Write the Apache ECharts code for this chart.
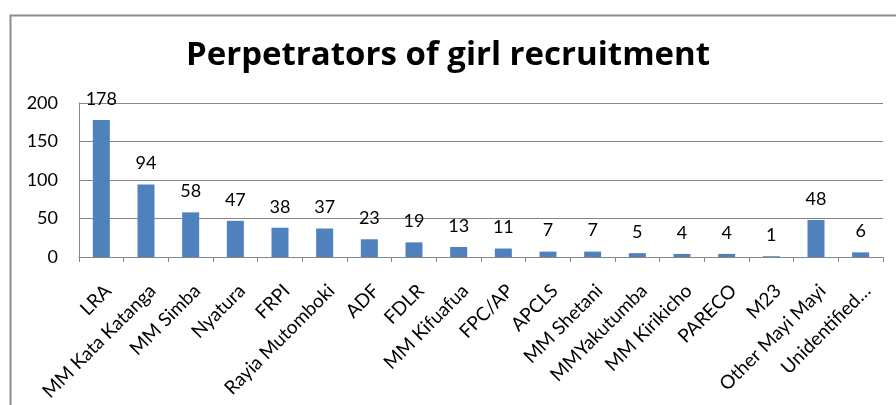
<!DOCTYPE html>
<html>
<head>
<meta charset="utf-8">
<script src="https://cdn.jsdelivr.net/npm/echarts@6/dist/echarts.min.js"></script>
<style>
html,body{margin:0;padding:0;background:#fff;}
#chart{width:896px;height:405px;}
</style>
</head>
<body>
<div id="chart"></div>
<script>
const categories = ["LRA","MM Kata Katanga","MM Simba","Nyatura","FRPI","Rayia Mutomboki","ADF","FDLR","MM Kifuafua","FPC/AP","APCLS","MM Shetani","MMYakutumba","MM Kirikicho","PARECO","M23","Other Mayi Mayi","Unidentified\u2026"];
const values = [178,94,58,47,38,37,23,19,13,11,7,7,5,4,4,1,48,6];
const yTicks = [0,50,100,150,200];

const chart = echarts.init(document.getElementById('chart'));
const font = 'Lato, "Liberation Sans", sans-serif';
chart.setOption({
  animation:false,
  backgroundColor:'#fff',
  title:{
    text:'Perpetrators of girl recruitment',
    left:'center', top:34,
    textStyle:{fontFamily:'"Open Sans", Lato, sans-serif', fontWeight:'bold', fontSize:33, color:'#000'}
  },
  graphic:[{
    type:'rect', shape:{x:10.5,y:15.5,width:900,height:420},
    style:{fill:'none', stroke:'#8c8c8c', lineWidth:2}, silent:true
  }],
  grid:{left:79, right:13, top:103, bottom:148},
  xAxis:{
    type:'category', data:categories,
    axisLine:{lineStyle:{color:'#868686'}},
    axisTick:{show:true, length:5, lineStyle:{color:'#868686'}},
    axisLabel:{rotate:45, interval:0, fontFamily:font, fontSize:19, color:'#000', margin:24, verticalAlign:'top'}
  },
  yAxis:{
    type:'value', min:yTicks[0], max:yTicks[yTicks.length-1], interval:50,
    axisLine:{show:true, lineStyle:{color:'#868686'}},
    axisTick:{show:false},
    splitLine:{lineStyle:{color:'#868686'}},
    axisLabel:{fontFamily:font, fontSize:18, color:'#000', margin:21}
  },
  series:[{
    type:'bar', data:values, barWidth:17,
    itemStyle:{color:'#4F81BD'},
    label:{show:true, position:'top', distance:12, fontFamily:font, fontSize:18, color:'#000'}
  }]
});
</script>
</body>
</html>
